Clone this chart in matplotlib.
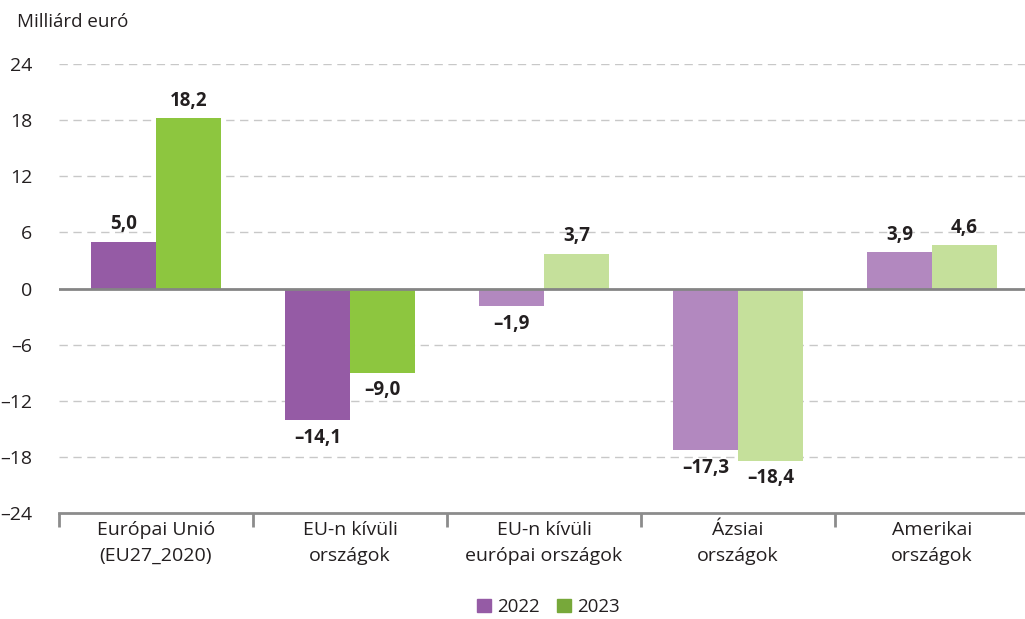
import numpy as np
import matplotlib
matplotlib.use("Agg")
import matplotlib.pyplot as plt
from matplotlib.patches import Patch

categories = ["Európai Unió\n(EU27_2020)", "EU-n kívüli\nországok",
              "EU-n kívüli\neurópai országok", "Ázsiai\nországok",
              "Amerikai\nországok"]
values_2022 = [5.0, -14.1, -1.9, -17.3, 3.9]
values_2023 = [18.2, -9.0, 3.7, -18.4, 4.6]
y_ticks = [-24, -18, -12, -6, 0, 6, 12, 18, 24]

# first two groups dark, the rest light
colors_2022 = ["#955ba5", "#955ba5", "#b288bf", "#b288bf", "#b288bf"]
colors_2023 = ["#8dc63f", "#8dc63f", "#c5e09b", "#c5e09b", "#c5e09b"]

plt.rcParams["font.family"] = ["Open Sans", "DejaVu Sans"]
TXT = "#231f20"


def fmt(v):
    s = f"{abs(v):.1f}".replace(".", ",")
    return ("\u2013" if v < 0 else "") + s


fig = plt.figure(figsize=(10.25, 6.19), dpi=100)
ax = fig.add_axes([59 / 1025, 1 - 513 / 619, 970 / 1025, (513 - 64) / 619])

x = np.arange(len(categories))
w = 0.335
ax.bar(x - w / 2, values_2022, w, color=colors_2022, zorder=3)
ax.bar(x + w / 2, values_2023, w, color=colors_2023, zorder=3)

for xs, vals in ((x - w / 2, values_2022), (x + w / 2, values_2023)):
    for xi, v in zip(xs, vals):
        off = 0.8 if v >= 0 else -0.8
        ax.text(xi, v + off, fmt(v), ha="center",
                va="bottom" if v >= 0 else "top",
                fontsize=13.5, fontweight="bold", color=TXT, zorder=4)

ax.set_xlim(-0.5, 4.5)
ax.set_ylim(-24, 24)
ax.set_yticks(y_ticks)
ax.set_yticklabels([str(t).replace("-", "\u2013") for t in y_ticks])
ax.tick_params(axis="y", length=0, pad=19, labelsize=14, labelcolor=TXT)

for t in y_ticks[1:]:
    if t != 0:
        ax.axhline(t, color="#c8c8c8", lw=1, ls=(0, (6, 4)), zorder=1)
ax.axhline(0, color="#858585", lw=2, zorder=4)

for s in ("top", "right", "left"):
    ax.spines[s].set_visible(False)
ax.spines["bottom"].set_color("#8c8c8c")
ax.spines["bottom"].set_linewidth(2)

ax.set_xticks(x)
ax.set_xticklabels(categories, fontsize=14, color=TXT, linespacing=1.55)
ax.tick_params(axis="x", length=0, pad=6)
ax.set_xticks(np.arange(-0.5, 4.5, 1.0), minor=True)
ax.tick_params(axis="x", which="minor", length=10, width=2, color="#8c8c8c")

fig.text(17 / 1025, 1 - 22 / 619, "Milliárd euró", fontsize=13.5, color=TXT,
         va="center", ha="left")

handles = [Patch(color="#955ba5", label="2022"),
           Patch(color="#77a83a", label="2023")]
fig.legend(handles=handles, loc="center", bbox_to_anchor=(0.535, 1 - 607 / 619),
           ncol=2, frameon=False, fontsize=13.5, handlelength=0.75, handleheight=0.75,
           handletextpad=0.35, columnspacing=0.9, labelcolor=TXT)

fig.savefig("out.png", dpi=100)
